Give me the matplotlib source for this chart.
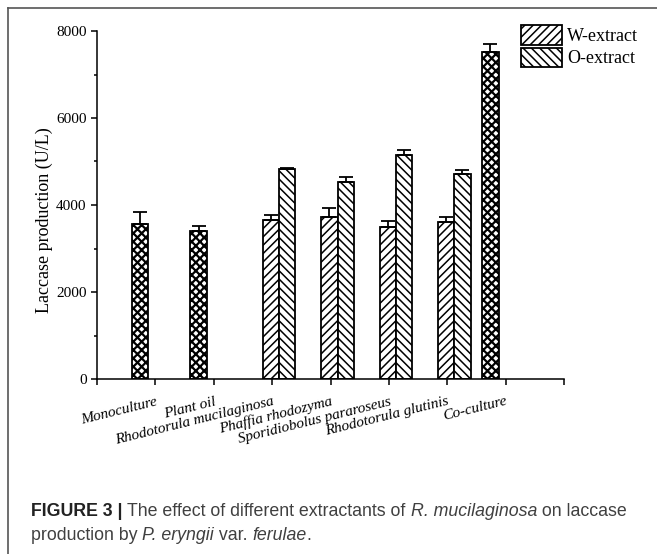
import numpy as np
import matplotlib
matplotlib.use('Agg')
import matplotlib.pyplot as plt
from matplotlib.patches import Patch
from matplotlib.text import Annotation

# data
categories = ['Monoculture', 'Plant oil', 'Rhodotorula mucilaginosa', 'Phaffia rhodozyma',
              'Sporidiobolus pararoseus', 'Rhodotorula glutinis', 'Co-culture']
single_cats = ['Monoculture', 'Plant oil', 'Co-culture']
single_vals = [3570, 3400, 7510]
single_err = [270, 115, 200]
pair_cats = ['Rhodotorula mucilaginosa', 'Phaffia rhodozyma',
             'Sporidiobolus pararoseus', 'Rhodotorula glutinis']
w_vals = [3650, 3730, 3500, 3600]
w_err = [115, 190, 130, 135]
o_vals = [4820, 4520, 5145, 4715]
o_err = [25, 115, 130, 90]

plt.rcParams['font.family'] = ['Liberation Serif', 'DejaVu Serif']
plt.rcParams['hatch.color'] = 'black'

W, H = 657, 554
fig = plt.figure(figsize=(W / 100, H / 100), dpi=100)
ax = fig.add_axes([97 / W, 1 - 379 / H, (564 - 97) / W, (379 - 31) / H])

tick_of = {c: i + 1 for i, c in enumerate(categories)}
bw = 0.28
lw = 1.3
ebar = dict(fmt='none', ecolor='black', elinewidth=1.3, capsize=5, capthick=1.3, zorder=3)

xs = np.array([tick_of[c] for c in single_cats]) - 0.26
plt.rcParams['hatch.linewidth'] = 1.6
ax.bar(xs, single_vals, bw, color='white', edgecolor='black', linewidth=lw, hatch='xxxx', zorder=2)
ax.errorbar(xs, single_vals, yerr=[np.zeros(len(xs)), single_err], **ebar)

xp = np.array([tick_of[c] for c in pair_cats]) + 0.12
plt.rcParams['hatch.linewidth'] = 1.1
ax.bar(xp - bw / 2, w_vals, bw, color='white', edgecolor='black', linewidth=lw, hatch='////', zorder=2)
ax.bar(xp + bw / 2, o_vals, bw, color='white', edgecolor='black', linewidth=lw, hatch='\\\\\\\\', zorder=2)
ax.errorbar(xp - bw / 2, w_vals, yerr=[np.zeros(len(xp)), w_err], **ebar)
ax.errorbar(xp + bw / 2, o_vals, yerr=[np.zeros(len(xp)), o_err], **ebar)

ax.set_xlim(0, 8)
ax.set_ylim(0, 8000)
ax.set_xticks(range(9))
ax.set_xticklabels([''] + categories + [''], rotation=14, ha='right', va='top',
                   rotation_mode='anchor', style='italic')
ax.set_yticks(range(0, 8001, 2000))
ax.set_yticks(range(1000, 8000, 2000), minor=True)
ax.tick_params(axis='both', which='major', direction='out', length=4.5, width=1.1, labelsize=11, pad=3)
ax.tick_params(axis='x', labelsize=11, pad=7)
ax.tick_params(axis='y', which='minor', direction='out', length=2.5, width=1.1)
for s in ['top', 'right']:
    ax.spines[s].set_visible(False)
for s in ['left', 'bottom']:
    ax.spines[s].set_linewidth(1.1)
ax.set_ylabel('Laccase production (U/L)', fontsize=13)
ax.yaxis.set_label_coords(-0.094, 0.457)

handles = [Patch(facecolor='white', edgecolor='black', hatch='////', linewidth=lw),
           Patch(facecolor='white', edgecolor='black', hatch='\\\\\\\\', linewidth=lw)]
ax.legend(handles, ['W-extract', 'O-extract'], loc='upper left',
          bbox_to_anchor=(521 / W, 1 - 25 / H), bbox_transform=fig.transFigure,
          frameon=False, fontsize=13, handlelength=2.25, handleheight=1.3,
          labelspacing=0.15, borderpad=0, borderaxespad=0, handletextpad=0.3)

# panel frame (top and left edges visible)
fig.add_artist(plt.Line2D([8 / W, 8 / W], [0, 1 - 8 / H], color='#555555', lw=1.2))
fig.add_artist(plt.Line2D([8 / W, 1], [1 - 8 / H, 1 - 8 / H], color='#555555', lw=1.2))

# caption, pieced together so bold / italic runs sit on one line
cap_font = ['Liberation Sans', 'DejaVu Sans']
cap_size = 12.8
lines = [
    [('FIGURE 3 | ', 'bold', 'normal'), ('The effect of different extractants of ', 'normal', 'normal'),
     ('R. mucilaginosa', 'normal', 'italic'), (' on laccase', 'normal', 'normal')],
    [('production by ', 'normal', 'normal'), ('P. eryngii', 'normal', 'italic'),
     (' var. ', 'normal', 'normal'), ('ferulae', 'normal', 'italic'), ('.', 'normal', 'normal')],
]
ys = [1 - 520 / H, 1 - 544 / H]
for parts, y in zip(lines, ys):
    prev = None
    for txt, wt, st in parts:
        col = '#222222' if wt == 'bold' else '#404040'
        if prev is None:
            prev = fig.text(31 / W, y, txt, fontsize=cap_size, family=cap_font, weight=wt,
                            style=st, color=col, va='bottom', ha='left')
        else:
            prev = fig.add_artist(Annotation(txt, xy=(1, 0), xycoords=prev, fontsize=cap_size,
                                             family=cap_font, weight=wt, style=st, color=col,
                                             va='bottom', ha='left'))

fig.savefig('out.png', dpi=100)
